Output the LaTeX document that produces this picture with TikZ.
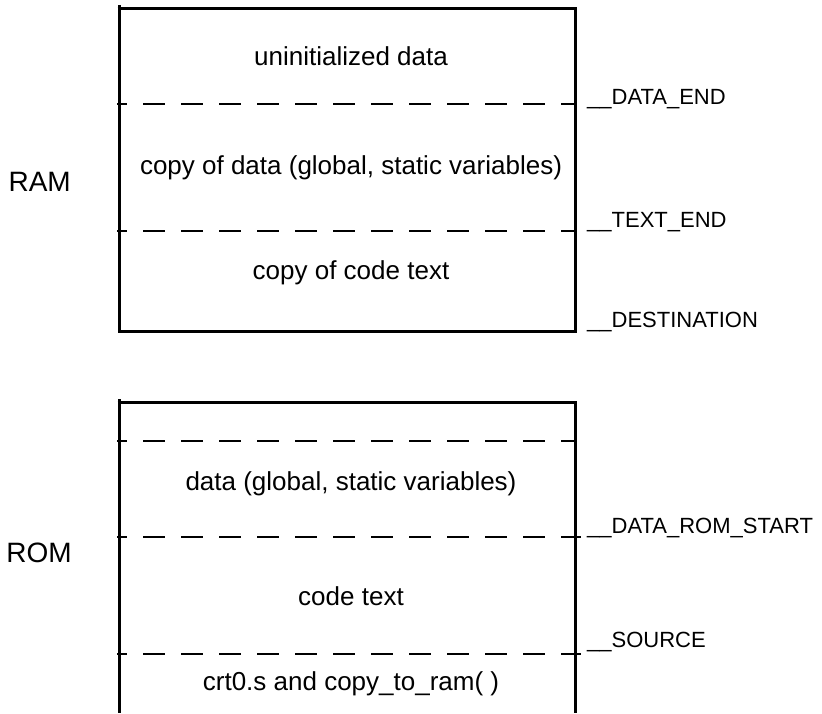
\documentclass[tikz,border=0pt]{standalone}
\usepackage{fontspec}
\setmainfont{Liberation Sans}
\begin{document}
\begin{tikzpicture}[x=1pt,y=-1pt,
  box/.style={line width=3pt},
  sep/.style={line width=2pt, dash pattern=on 22pt off 16pt, dash phase=12pt},
  region/.style={font=\fontsize{26}{30}\selectfont, anchor=base, inner sep=0pt},
  mem/.style={font=\fontsize{28}{32}\selectfont, anchor=base east, inner sep=0pt},
  addr/.style={font=\fontsize{22}{26}\selectfont, anchor=base west, inner sep=0pt}]
\useasboundingbox (0,0) rectangle (822,713);
% RAM block
\draw[box] (119,5) -- (119,331) -- (575,331) -- (575,8);
\draw[box] (117.5,8) -- (577,8);
\draw[sep] (117,104) -- (575,104);
\draw[sep] (117,231) -- (575,231);
\node[region] (uninit) at (351,65) {uninitialized data};
\node[region] (copydata) at (351,174) {copy of data (global, static variables)};
\node[region] (copycode) at (351,279) {copy of code text};
\node[mem] (ram) at (71,191) {RAM};
\node[addr] (dataend) at (587,104) {\_\_DATA\_END};
\node[addr] (textend) at (587,227) {\_\_TEXT\_END};
\node[addr] (dest) at (587,327) {\_\_DESTINATION};
% ROM block
\draw[box] (119,399) -- (119,713);
\draw[box] (575,402) -- (575,713);
\draw[box] (117.5,402) -- (577,402);
\draw[sep] (117,441) -- (575,441);
\draw[sep] (117,537) -- (581,537);
\draw[sep] (117,654) -- (581,654);
\node[region] (romdata) at (351,490) {data (global, static variables)};
\node[region] (code) at (351,605) {code text};
\node[region] (crt) at (351,690) {crt0.s and copy\_to\_ram( )};
\node[mem] (rom) at (72,562) {ROM};
\node[addr] (romstart) at (587,533) {\_\_DATA\_ROM\_START};
\node[addr] (source) at (587,647) {\_\_SOURCE};
\end{tikzpicture}
\end{document}
